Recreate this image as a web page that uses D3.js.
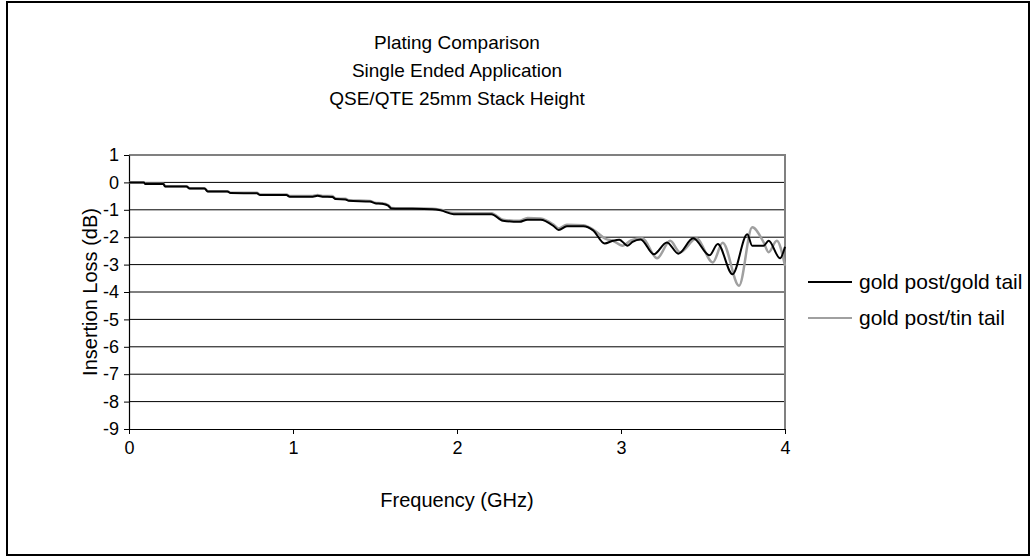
<!DOCTYPE html>
<html>
<head>
<meta charset="utf-8">
<script src="https://cdn.jsdelivr.net/npm/d3@7"></script>
<style>
  body { margin: 0; background: #fff; }
  svg { display: block; font-family: Arial, "Liberation Sans", sans-serif; }
</style>
</head>
<body>
<svg id="chart" width="1031" height="558"></svg>
<script>
// chart text
const titleLines = ['Plating Comparison', 'Single Ended Application', 'QSE/QTE 25mm Stack Height'];
const xTitle = 'Frequency (GHz)';
const yTitle = 'Insertion Loss (dB)';
const xTicks = [0, 1, 2, 3, 4];
const yTicks = [1, 0, -1, -2, -3, -4, -5, -6, -7, -8, -9];

// gold post / gold tail (black)
const goldFreq = [0, 0.09, 0.1, 0.21, 0.22, 0.35, 0.37, 0.46, 0.48, 0.6, 0.62, 0.78, 0.8, 0.96, 0.98,
  1.12, 1.15, 1.18, 1.24, 1.26, 1.32, 1.34, 1.47, 1.5, 1.54, 1.58, 1.6, 1.85, 1.9, 1.98,
  2.21, 2.28, 2.38, 2.43, 2.51, 2.59, 2.62, 2.67, 2.77, 2.83, 2.9, 2.95, 2.99, 3.04, 3.07,
  3.12, 3.2, 3.28, 3.35, 3.44, 3.54, 3.59, 3.68, 3.77, 3.8, 3.87, 3.9, 3.97, 4.0];
const goldLoss = [0, 0, -0.06, -0.06, -0.15, -0.15, -0.22, -0.22, -0.33, -0.33, -0.39, -0.4, -0.46, -0.46, -0.52,
  -0.52, -0.49, -0.52, -0.53, -0.61, -0.62, -0.67, -0.7, -0.76, -0.78, -0.85, -0.95, -0.98, -1.02, -1.16,
  -1.16, -1.4, -1.44, -1.36, -1.36, -1.6, -1.74, -1.6, -1.6, -1.75, -2.23, -2.13, -2.09, -2.31, -2.17,
  -2.08, -2.62, -2.19, -2.6, -2.04, -2.66, -2.25, -3.35, -1.89, -2.31, -2.31, -2.13, -2.77, -2.35];

// gold post / tin tail (gray)
const tinFreq = [0, 0.09, 0.1, 0.21, 0.22, 0.35, 0.37, 0.46, 0.48, 0.6, 0.62, 0.78, 0.8, 0.96, 0.98,
  1.12, 1.15, 1.18, 1.24, 1.26, 1.32, 1.34, 1.47, 1.5, 1.54, 1.58, 1.6, 1.85, 1.9, 1.98,
  2.21, 2.28, 2.38, 2.43, 2.51, 2.59, 2.62, 2.67, 2.77, 2.83, 2.91, 2.95, 3.01, 3.06,
  3.13, 3.22, 3.3, 3.36, 3.46, 3.56, 3.62, 3.72, 3.8, 3.87, 3.9, 3.95, 4.0];
const tinLoss = [0, 0, -0.05, -0.05, -0.14, -0.14, -0.21, -0.21, -0.32, -0.32, -0.38, -0.38, -0.44, -0.44, -0.5,
  -0.5, -0.46, -0.5, -0.5, -0.59, -0.6, -0.65, -0.68, -0.74, -0.76, -0.83, -0.93, -0.96, -1.0, -1.12,
  -1.13, -1.36, -1.4, -1.3, -1.32, -1.55, -1.68, -1.55, -1.56, -1.72, -2.07, -2.13, -2.31, -2.12,
  -2.04, -2.77, -2.13, -2.55, -2.05, -2.92, -2.2, -3.77, -1.64, -2.19, -2.55, -2.13, -3.04];

const svg = d3.select('#chart');
const plot = { left: 129, right: 785, top: 155, bottom: 429 };
const tickFont = 18;
const titleFont = 19;
const axisTitleFont = 20;
const legendFont = 21;

const x = d3.scaleLinear().domain([0, 4]).range([plot.left, plot.right]);
const y = d3.scaleLinear().domain([-9, 1]).range([plot.bottom, plot.top]);

// outer frame
svg.append('rect')
  .attr('x', 7).attr('y', 2).attr('width', 1022).attr('height', 553)
  .attr('fill', '#fff').attr('stroke', '#000').attr('stroke-width', 2);

// gridlines
svg.append('g')
  .selectAll('line')
  .data(yTicks.filter(d => d > -9 && d < 1))
  .join('line')
  .attr('x1', plot.left).attr('x2', plot.right)
  .attr('y1', d => y(d)).attr('y2', d => y(d))
  .attr('stroke', '#000').attr('stroke-width', 1);

// plot area border (top + right gray)
svg.append('path')
  .attr('d', `M${plot.left},${plot.top}H${plot.right}V${plot.bottom}`)
  .attr('fill', 'none').attr('stroke', '#808080').attr('stroke-width', 2);

// axes
const yAxis = svg.append('g')
  .attr('transform', `translate(${plot.left},0)`)
  .call(d3.axisLeft(y).tickValues(yTicks).tickFormat(d => String(d))
    .tickSize(5).tickPadding(5).tickSizeOuter(0));
const xAxis = svg.append('g')
  .attr('transform', `translate(0,${plot.bottom})`)
  .call(d3.axisBottom(x).tickValues(xTicks).tickFormat(d => String(d))
    .tickSize(5).tickPadding(7).tickSizeOuter(0));

[yAxis, xAxis].forEach(g => {
  g.select('.domain').attr('stroke', '#000').attr('stroke-width', 1.2);
  g.selectAll('.tick line').attr('stroke', '#000');
  g.selectAll('.tick text')
    .attr('font-size', tickFont).attr('fill', '#000')
    .attr('font-family', 'Arial, "Liberation Sans", sans-serif');
});

// series
const line = d3.line()
  .x(d => x(d[0]))
  .y(d => y(d[1]))
  .curve(d3.curveMonotoneX);

const series = [
  { name: 'gold post/gold tail', freq: goldFreq, loss: goldLoss, color: '#000', width: 2 },
  { name: 'gold post/tin tail', freq: tinFreq, loss: tinLoss, color: '#a0a0a0', width: 2.5 }
];

svg.append('g')
  .selectAll('path')
  .data(series.slice().reverse())
  .join('path')
  .attr('d', s => line(d3.zip(s.freq, s.loss)))
  .attr('fill', 'none')
  .attr('stroke', s => s.color)
  .attr('stroke-width', s => s.width)
  .attr('stroke-linejoin', 'round');

// titles
svg.append('g')
  .selectAll('text')
  .data(titleLines)
  .join('text')
  .attr('x', 457)
  .attr('y', (d, i) => 49 + i * 28)
  .attr('text-anchor', 'middle')
  .attr('font-size', titleFont)
  .text(d => d);

svg.append('text')
  .attr('x', 457).attr('y', 507)
  .attr('text-anchor', 'middle')
  .attr('font-size', axisTitleFont)
  .text(xTitle);

svg.append('text')
  .attr('transform', `translate(97,${(plot.top + plot.bottom) / 2}) rotate(-90)`)
  .attr('text-anchor', 'middle')
  .attr('font-size', axisTitleFont)
  .text(yTitle);

// legend
const legend = svg.append('g')
  .selectAll('g')
  .data(series)
  .join('g')
  .attr('transform', (d, i) => `translate(808,${282 + i * 36})`);
legend.append('line')
  .attr('x1', 0).attr('x2', 44)
  .attr('stroke', d => d.color).attr('stroke-width', 2);
legend.append('text')
  .attr('x', 51).attr('dy', '0.35em')
  .attr('font-size', legendFont)
  .text(d => d.name);
</script>
</body>
</html>
